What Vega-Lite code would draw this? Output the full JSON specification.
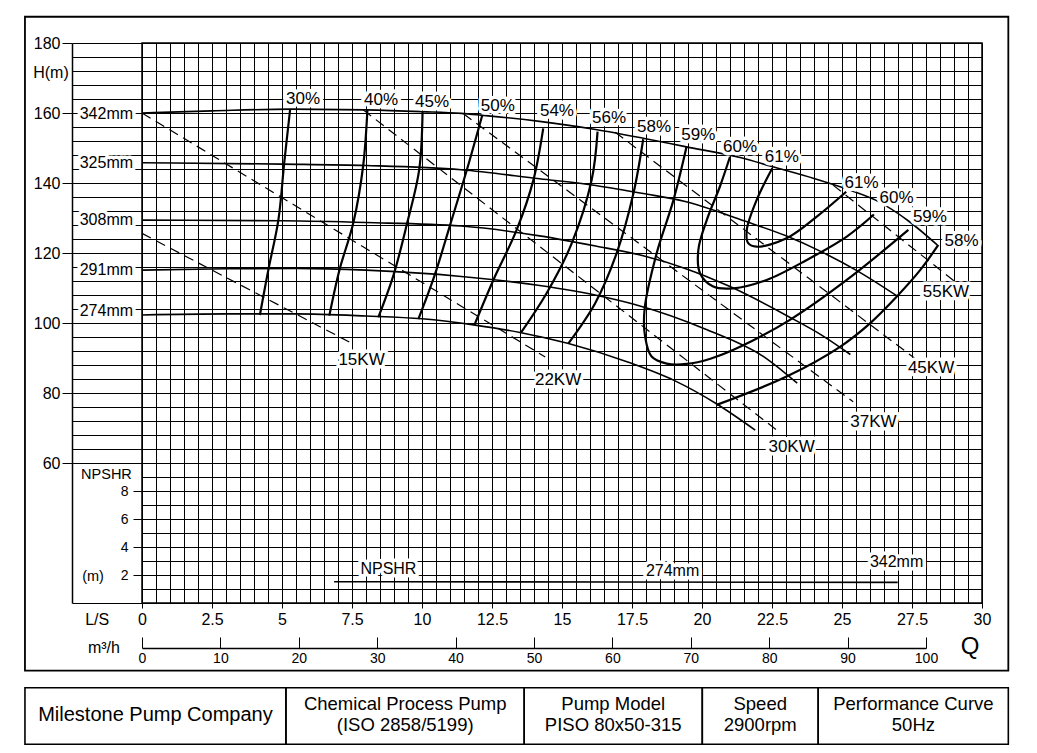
{
  "$schema": "https://vega.github.io/schema/vega-lite/v6.json",
  "width": 840,
  "height": 560,
  "autosize": {"type": "none"},
  "padding": {"left": 142, "top": 43, "right": 55, "bottom": 150},
  "background": "white",
  "config": {
    "view": {"stroke": "#000", "strokeWidth": 1.5},
    "font": "Liberation Sans",
    "axis": {
      "labelFont": "Liberation Sans",
      "labelColor": "#000",
      "tickColor": "#000",
      "domainColor": "#000",
      "gridColor": "#000",
      "gridOpacity": 1,
      "gridWidth": 1,
      "tickWidth": 1,
      "labelFontSize": 16
    }
  },
  "datasets": {
    "heads": [
      {"d": "342mm", "q": 0, "h": 160}, {"d": "342mm", "q": 2.5, "h": 160.6}, {"d": "342mm", "q": 5.3, "h": 161.1},
      {"d": "342mm", "q": 8, "h": 160.9}, {"d": "342mm", "q": 10, "h": 160.4}, {"d": "342mm", "q": 11.4, "h": 159.9},
      {"d": "342mm", "q": 12.1, "h": 159.4}, {"d": "342mm", "q": 14.2, "h": 157.6}, {"d": "342mm", "q": 16.2, "h": 155.3},
      {"d": "342mm", "q": 17.9, "h": 152.8}, {"d": "342mm", "q": 19.4, "h": 150.4}, {"d": "342mm", "q": 21.4, "h": 147.2},
      {"d": "342mm", "q": 22.5, "h": 144.7}, {"d": "342mm", "q": 24, "h": 141.3}, {"d": "342mm", "q": 25.2, "h": 138.2},
      {"d": "342mm", "q": 26.2, "h": 135.1}, {"d": "342mm", "q": 27.4, "h": 129}, {"d": "342mm", "q": 28.4, "h": 122.3},
      {"d": "325mm", "q": 0, "h": 145.8}, {"d": "325mm", "q": 5, "h": 145.4}, {"d": "325mm", "q": 8, "h": 145},
      {"d": "325mm", "q": 11.4, "h": 143.8}, {"d": "325mm", "q": 14.2, "h": 141.2}, {"d": "325mm", "q": 16.2, "h": 139.3},
      {"d": "325mm", "q": 17.9, "h": 137}, {"d": "325mm", "q": 19.4, "h": 134.7}, {"d": "325mm", "q": 21.5, "h": 129.2},
      {"d": "325mm", "q": 23, "h": 124.9}, {"d": "325mm", "q": 24.2, "h": 120.6}, {"d": "325mm", "q": 25.5, "h": 115.1},
      {"d": "325mm", "q": 26.95, "h": 107.8},
      {"d": "308mm", "q": 0, "h": 129.4}, {"d": "308mm", "q": 5, "h": 129.2}, {"d": "308mm", "q": 8, "h": 128.7},
      {"d": "308mm", "q": 11.4, "h": 127.7}, {"d": "308mm", "q": 14.2, "h": 124.9}, {"d": "308mm", "q": 16.2, "h": 122},
      {"d": "308mm", "q": 17.9, "h": 119.2}, {"d": "308mm", "q": 19.4, "h": 115.6}, {"d": "308mm", "q": 21, "h": 110.4},
      {"d": "308mm", "q": 23.1, "h": 101.8}, {"d": "308mm", "q": 24.3, "h": 96.4}, {"d": "308mm", "q": 25.3, "h": 91},
      {"d": "291mm", "q": 0, "h": 115.1}, {"d": "291mm", "q": 3, "h": 115.5}, {"d": "291mm", "q": 5.5, "h": 115.6},
      {"d": "291mm", "q": 8, "h": 115.1}, {"d": "291mm", "q": 11.4, "h": 113.3}, {"d": "291mm", "q": 14.2, "h": 110.7},
      {"d": "291mm", "q": 16.3, "h": 107.8}, {"d": "291mm", "q": 17.6, "h": 105.3}, {"d": "291mm", "q": 20.2, "h": 98},
      {"d": "291mm", "q": 22.2, "h": 90.4}, {"d": "291mm", "q": 23.4, "h": 82.8},
      {"d": "274mm", "q": 0, "h": 102.3}, {"d": "274mm", "q": 3, "h": 102.6}, {"d": "274mm", "q": 5.5, "h": 102.6},
      {"d": "274mm", "q": 8, "h": 102}, {"d": "274mm", "q": 10, "h": 101.2}, {"d": "274mm", "q": 11.9, "h": 99.4},
      {"d": "274mm", "q": 13.5, "h": 97.3}, {"d": "274mm", "q": 15.2, "h": 94.2}, {"d": "274mm", "q": 17.4, "h": 88.7},
      {"d": "274mm", "q": 19, "h": 83.6}, {"d": "274mm", "q": 20.5, "h": 77}, {"d": "274mm", "q": 21.9, "h": 69.4}
    ],
    "eff": [
      {"c": "30%", "q": 5.29, "h": 161}, {"c": "30%", "q": 5.08, "h": 145.8}, {"c": "30%", "q": 4.87, "h": 129.4},
      {"c": "30%", "q": 4.51, "h": 115.1}, {"c": "30%", "q": 4.21, "h": 102.3},
      {"c": "40%", "q": 8.05, "h": 160.9}, {"c": "40%", "q": 7.9, "h": 145}, {"c": "40%", "q": 7.55, "h": 128.7},
      {"c": "40%", "q": 7.05, "h": 115.1}, {"c": "40%", "q": 6.69, "h": 102.1},
      {"c": "45%", "q": 10.02, "h": 160.4}, {"c": "45%", "q": 9.9, "h": 143.8}, {"c": "45%", "q": 9.45, "h": 127.9},
      {"c": "45%", "q": 8.98, "h": 113.6}, {"c": "45%", "q": 8.44, "h": 101.6},
      {"c": "50%", "q": 12.15, "h": 159.3}, {"c": "50%", "q": 11.6, "h": 143.7}, {"c": "50%", "q": 11, "h": 127.9},
      {"c": "50%", "q": 10.45, "h": 113.6}, {"c": "50%", "q": 9.87, "h": 101.1},
      {"c": "54%", "q": 14.33, "h": 155.6}, {"c": "54%", "q": 13.98, "h": 140.9}, {"c": "54%", "q": 13.38, "h": 126.6},
      {"c": "54%", "q": 12.55, "h": 112.3}, {"c": "54%", "q": 11.87, "h": 99.4},
      {"c": "56%", "q": 16.27, "h": 154.7}, {"c": "56%", "q": 16.06, "h": 140.9}, {"c": "56%", "q": 15.35, "h": 122.8},
      {"c": "56%", "q": 14.45, "h": 108.5}, {"c": "56%", "q": 13.54, "h": 97.3},
      {"c": "58%L", "q": 17.9, "h": 152.5}, {"c": "58%L", "q": 17.55, "h": 137}, {"c": "58%L", "q": 16.95, "h": 119.9},
      {"c": "58%L", "q": 16.18, "h": 105.6}, {"c": "58%L", "q": 15.23, "h": 94.2},
      {"c": "59%", "q": 19.45, "h": 150.4}, {"c": "59%", "q": 18.98, "h": 135.1}, {"c": "59%", "q": 18.38, "h": 119.9},
      {"c": "59%", "q": 17.95, "h": 104}, {"c": "59%", "q": 17.97, "h": 96}, {"c": "59%", "q": 18.2, "h": 90.4},
      {"c": "59%", "q": 18.74, "h": 88.4}, {"c": "59%", "q": 19.45, "h": 88.3}, {"c": "59%", "q": 20.3, "h": 89.8},
      {"c": "59%", "q": 21.36, "h": 93.2}, {"c": "59%", "q": 23.14, "h": 100.9}, {"c": "59%", "q": 25.17, "h": 112.3},
      {"c": "59%", "q": 27.37, "h": 126.6},
      {"c": "60%", "q": 21, "h": 147.5}, {"c": "60%", "q": 20.64, "h": 139}, {"c": "60%", "q": 20.17, "h": 129.4},
      {"c": "60%", "q": 19.87, "h": 120.9}, {"c": "60%", "q": 19.93, "h": 114.2}, {"c": "60%", "q": 20.4, "h": 110.4},
      {"c": "60%", "q": 21.12, "h": 109.9}, {"c": "60%", "q": 22.31, "h": 112.3}, {"c": "60%", "q": 23.74, "h": 118},
      {"c": "60%", "q": 25.17, "h": 124.7}, {"c": "60%", "q": 26.14, "h": 131},
      {"c": "61%", "q": 22.51, "h": 144.2}, {"c": "61%", "q": 21.95, "h": 135.1}, {"c": "61%", "q": 21.6, "h": 126.6},
      {"c": "61%", "q": 21.65, "h": 122.8}, {"c": "61%", "q": 21.95, "h": 121.8}, {"c": "61%", "q": 23.02, "h": 124.2},
      {"c": "61%", "q": 24.1, "h": 130.4}, {"c": "61%", "q": 25.15, "h": 137.5},
      {"c": "58%R", "q": 20.52, "h": 76.6}, {"c": "58%R", "q": 23.02, "h": 84.7}, {"c": "58%R", "q": 24.93, "h": 93.2},
      {"c": "58%R", "q": 26, "h": 99.9}, {"c": "58%R", "q": 26.95, "h": 107.5}, {"c": "58%R", "q": 27.79, "h": 115.1},
      {"c": "58%R", "q": 28.44, "h": 122.3}
    ],
    "power": [
      {"p": "15KW", "q": 0, "h": 125.6}, {"p": "15KW", "q": 7.49, "h": 94.2},
      {"p": "22KW", "q": 0, "h": 160}, {"p": "22KW", "q": 14.4, "h": 90.3},
      {"p": "30KW", "q": 7.9, "h": 160.9}, {"p": "30KW", "q": 22.67, "h": 69.4},
      {"p": "37KW", "q": 11.48, "h": 159.8}, {"p": "37KW", "q": 25.4, "h": 77.5},
      {"p": "45KW", "q": 16.9, "h": 154.5}, {"p": "45KW", "q": 27.6, "h": 89.9},
      {"p": "55KW", "q": 24.68, "h": 139.4}, {"p": "55KW", "q": 29.04, "h": 111.8}
    ],
    "npshr": [
      {"q": 6.86, "n": 1.52}, {"q": 17, "n": 1.5}, {"q": 26.99, "n": 1.47}
    ],
    "sizeLabels": [
      {"t": "342mm", "q": -0.32, "h": 159.7},
      {"t": "325mm", "q": -0.32, "h": 145.7},
      {"t": "308mm", "q": -0.32, "h": 129.4},
      {"t": "291mm", "q": -0.32, "h": 115.1},
      {"t": "274mm", "q": -0.32, "h": 103.4}
    ],
    "curveLabels": [
      {"t": "30%", "q": 5.75, "h": 164}, {"t": "40%", "q": 8.54, "h": 163.7}, {"t": "45%", "q": 10.36, "h": 163.1},
      {"t": "50%", "q": 12.71, "h": 162}, {"t": "54%", "q": 14.82, "h": 160.6}, {"t": "56%", "q": 16.68, "h": 158.6},
      {"t": "58%", "q": 18.29, "h": 156.1}, {"t": "59%", "q": 19.87, "h": 153.7}, {"t": "60%", "q": 21.36, "h": 150.4},
      {"t": "61%", "q": 22.85, "h": 147.3}, {"t": "61%", "q": 25.7, "h": 140.1}, {"t": "60%", "q": 26.95, "h": 135.6},
      {"t": "59%", "q": 28.14, "h": 130.3}, {"t": "58%", "q": 29.27, "h": 123.4},
      {"t": "15KW", "q": 7.84, "h": 89.3}, {"t": "22KW", "q": 14.86, "h": 83.7}, {"t": "30KW", "q": 23.2, "h": 64.6},
      {"t": "37KW", "q": 26.12, "h": 71.7}, {"t": "45KW", "q": 28.18, "h": 87.1}, {"t": "55KW", "q": 28.71, "h": 108.9}
    ],
    "notes": [
      {"t": "H(m)", "q": -3.25, "h": 171.3},
      {"t": "L/S", "q": -1.6, "h": 15.1},
      {"t": "m³/h", "q": -1.36, "h": 7.1},
      {"t": "Q", "q": 29.57, "h": 7.3}
    ],
    "npshrLabels": [
      {"t": "NPSHR", "q": 8.8, "n": 2.43},
      {"t": "274mm", "q": 18.95, "n": 2.29},
      {"t": "342mm", "q": 26.95, "n": 2.93}
    ],
    "npshrNotes": [
      {"t": "NPSHR", "q": -1.27, "n": 9.15},
      {"t": "(m)", "q": -1.75, "n": 1.86}
    ],
    "titleBlock": [
      {"cell": "company", "txt": "Milestone Pump Company", "q0": -4.18, "q1": 5.14, "qm": 0.48},
      {"cell": "type", "txt": "Chemical Process Pump\n(ISO 2858/5199)", "q0": 5.14, "q1": 13.65, "qm": 9.4},
      {"cell": "model", "txt": "Pump Model\nPISO 80x50-315", "q0": 13.65, "q1": 20.01, "qm": 16.83},
      {"cell": "speed", "txt": "Speed\n2900rpm", "q0": 20.01, "q1": 24.15, "qm": 22.08},
      {"cell": "curve", "txt": "Performance Curve\n50Hz", "q0": 24.15, "q1": 30.94, "qm": 27.55}
    ]
  },
  "layer": [
    {
      "data": {"values": [{"q": 0}, {"q": 30}]},
      "mark": {"type": "point", "opacity": 0},
      "encoding": {
        "x": {
          "field": "q", "type": "quantitative", "title": null,
          "scale": {"domain": [0, 30], "range": [0, 840], "nice": false, "zero": false},
          "axis": {
            "orient": "bottom",
            "values": [0, 0.5, 1, 1.5, 2, 2.5, 3, 3.5, 4, 4.5, 5, 5.5, 6, 6.5, 7, 7.5, 8, 8.5, 9, 9.5, 10, 10.5, 11, 11.5, 12, 12.5, 13, 13.5, 14, 14.5, 15, 15.5, 16, 16.5, 17, 17.5, 18, 18.5, 19, 19.5, 20, 20.5, 21, 21.5, 22, 22.5, 23, 23.5, 24, 24.5, 25, 25.5, 26, 26.5, 27, 27.5, 28, 28.5, 29, 29.5, 30],
            "grid": true,
            "domain": false,
            "tickSize": 5,
            "tickOpacity": {"condition": {"test": "datum.value % 2.5 === 0", "value": 1}, "value": 0},
            "labelExpr": "datum.value % 2.5 === 0 ? '' + datum.value : ''",
            "labelFontSize": 16,
            "labelPadding": 3,
            "labelFlush": false,
            "labelOverlap": false
          }
        }
      }
    },
    {
      "layer": [
        {
          "layer": [
            {
              "data": {"name": "heads"},
              "mark": {"type": "line", "interpolate": "monotone", "color": "#000", "strokeWidth": 1.6},
              "encoding": {
                "x": {"field": "q", "type": "quantitative", "title": null, "axis": null, "scale": {"domain": [0, 30], "nice": false, "zero": false}},
                "y": {
                  "field": "h", "type": "quantitative", "title": null,
                  "scale": {"domain": [20, 180], "nice": false, "zero": false},
                  "axis": {
                    "orient": "left",
                    "offset": 70,
                    "values": [60, 80, 100, 120, 140, 160, 180],
                    "grid": false,
                    "domain": true,
                    "domainWidth": 1.5,
                    "tickSize": 10,
                    "labelFontSize": 16,
                    "labelPadding": 2
                  }
                },
                "detail": {"field": "d"}
              }
            },
            {
              "data": {"name": "power"},
              "mark": {"type": "line", "color": "#000", "strokeWidth": 1.2, "strokeDash": [10, 6]},
              "encoding": {
                "x": {"field": "q", "type": "quantitative", "title": null, "axis": null, "scale": {"domain": [0, 30], "nice": false, "zero": false}},
                "y": {"field": "h", "type": "quantitative", "title": null, "scale": {"domain": [20, 180], "nice": false, "zero": false}},
                "detail": {"field": "p"}
              }
            },
            {
              "data": {"name": "eff"},
              "mark": {"type": "line", "interpolate": "catmull-rom", "color": "#000", "strokeWidth": 2.2},
              "encoding": {
                "x": {"field": "q", "type": "quantitative", "title": null, "axis": null, "scale": {"domain": [0, 30], "nice": false, "zero": false}},
                "y": {"field": "h", "type": "quantitative", "title": null, "scale": {"domain": [20, 180], "nice": false, "zero": false}},
                "detail": {"field": "c"},
                "order": {"value": null}
              }
            },
            {
              "data": {"name": "sizeLabels"},
              "mark": {"type": "text", "align": "right", "fontSize": 16, "fill": "white", "stroke": "white", "strokeWidth": 7, "strokeJoin": "round"},
              "encoding": {
                "x": {"field": "q", "type": "quantitative", "title": null, "axis": null, "scale": {"domain": [0, 30], "nice": false, "zero": false}},
                "y": {"field": "h", "type": "quantitative", "title": null, "scale": {"domain": [20, 180], "nice": false, "zero": false}},
                "text": {"field": "t"}
              }
            },
            {
              "data": {"name": "sizeLabels"},
              "mark": {"type": "text", "align": "right", "fontSize": 16, "color": "#000"},
              "encoding": {
                "x": {"field": "q", "type": "quantitative", "title": null, "axis": null, "scale": {"domain": [0, 30], "nice": false, "zero": false}},
                "y": {"field": "h", "type": "quantitative", "title": null, "scale": {"domain": [20, 180], "nice": false, "zero": false}},
                "text": {"field": "t"}
              }
            },
            {
              "data": {"name": "curveLabels"},
              "mark": {"type": "text", "fontSize": 17, "fill": "white", "stroke": "white", "strokeWidth": 7, "strokeJoin": "round"},
              "encoding": {
                "x": {"field": "q", "type": "quantitative", "title": null, "axis": null, "scale": {"domain": [0, 30], "nice": false, "zero": false}},
                "y": {"field": "h", "type": "quantitative", "title": null, "scale": {"domain": [20, 180], "nice": false, "zero": false}},
                "text": {"field": "t"}
              }
            },
            {
              "data": {"name": "curveLabels"},
              "mark": {"type": "text", "fontSize": 17, "color": "#000"},
              "encoding": {
                "x": {"field": "q", "type": "quantitative", "title": null, "axis": null, "scale": {"domain": [0, 30], "nice": false, "zero": false}},
                "y": {"field": "h", "type": "quantitative", "title": null, "scale": {"domain": [20, 180], "nice": false, "zero": false}},
                "text": {"field": "t"}
              }
            },
            {
              "data": {"name": "notes"},
              "mark": {"type": "text", "color": "#000"},
              "encoding": {
                "x": {"field": "q", "type": "quantitative", "title": null, "axis": null, "scale": {"domain": [0, 30], "nice": false, "zero": false}},
                "y": {"field": "h", "type": "quantitative", "title": null, "scale": {"domain": [20, 180], "nice": false, "zero": false}},
                "text": {"field": "t"},
                "size": {"condition": {"test": "datum.t === 'Q'", "value": 24}, "value": 16}
              }
            },
            {
              "data": {"values": [{}]},
              "mark": {"type": "rect", "fillOpacity": 0, "stroke": "#000", "strokeWidth": 1.8},
              "encoding": {
                "x": {"datum": -4.18, "type": "quantitative", "axis": null, "scale": {"domain": [0, 30], "nice": false, "zero": false}},
                "x2": {"datum": 30.94},
                "y": {"datum": 187.5, "type": "quantitative", "scale": {"domain": [20, 180], "nice": false, "zero": false}},
                "y2": {"datum": 0.66}
              }
            },
            {
              "data": {"name": "titleBlock"},
              "mark": {"type": "rect", "fillOpacity": 0, "stroke": "#000", "strokeWidth": 1.6},
              "encoding": {
                "x": {"field": "q0", "type": "quantitative", "title": null, "axis": null, "scale": {"domain": [0, 30], "nice": false, "zero": false}},
                "x2": {"field": "q1"},
                "y": {"datum": -4.2, "type": "quantitative", "scale": {"domain": [20, 180], "nice": false, "zero": false}},
                "y2": {"datum": -20.37}
              }
            },
            {
              "data": {"name": "titleBlock"},
              "transform": [{"filter": "datum.cell !== 'company'"}],
              "mark": {"type": "text", "color": "#000", "fontSize": 18.5, "lineBreak": "\n", "lineHeight": 21},
              "encoding": {
                "x": {"field": "qm", "type": "quantitative", "title": null, "axis": null, "scale": {"domain": [0, 30], "nice": false, "zero": false}},
                "y": {"datum": -8.86, "type": "quantitative", "scale": {"domain": [20, 180], "nice": false, "zero": false}},
                "text": {"field": "txt"}
              }
            },
            {
              "data": {"name": "titleBlock"},
              "transform": [{"filter": "datum.cell === 'company'"}],
              "mark": {"type": "text", "color": "#000", "fontSize": 20},
              "encoding": {
                "x": {"field": "qm", "type": "quantitative", "title": null, "axis": null, "scale": {"domain": [0, 30], "nice": false, "zero": false}},
                "y": {"datum": -11.9, "type": "quantitative", "scale": {"domain": [20, 180], "nice": false, "zero": false}},
                "text": {"field": "txt"}
              }
            }
          ]
        },
        {
          "data": {"name": "heads"},
          "mark": {"type": "point", "opacity": 0},
          "encoding": {
            "x": {"field": "q", "type": "quantitative", "title": null, "axis": null, "scale": {"domain": [0, 30], "nice": false, "zero": false}},
            "y": {
              "field": "h", "type": "quantitative", "title": null,
              "scale": {"domain": [20, 180], "nice": false, "zero": false},
              "axis": {
                "orient": "left",
                "offset": 0,
                "values": [20, 60, 64, 68, 72, 76, 80, 84, 88, 92, 96, 100, 104, 108, 112, 116, 120, 124, 128, 132, 136, 140, 144, 148, 152, 156, 160, 164, 168, 172, 176, 180],
                "grid": true,
                "labels": false,
                "domain": false,
                "tickSize": 70
              }
            }
          }
        },
        {
          "layer": [
            {
              "data": {"name": "npshr"},
              "mark": {"type": "line", "interpolate": "monotone", "color": "#000", "strokeWidth": 1.6},
              "encoding": {
                "x": {"field": "q", "type": "quantitative", "title": null, "axis": null, "scale": {"domain": [0, 30], "nice": false, "zero": false}},
                "y": {
                  "field": "n", "type": "quantitative", "title": null,
                  "scale": {"domain": [0, 40], "nice": false, "zero": false},
                  "axis": {
                    "orient": "left",
                    "values": [1, 2, 3, 4, 5, 6, 7, 8, 9],
                    "grid": true,
                    "domain": false,
                    "tickSize": 9,
                    "tickOpacity": {"condition": {"test": "datum.value % 2 === 0", "value": 1}, "value": 0},
                    "labelExpr": "datum.value % 2 === 0 ? '' + datum.value : ''",
                    "labelFontSize": 14,
                    "labelPadding": 5
                  }
                }
              }
            },
            {
              "data": {"name": "npshrLabels"},
              "mark": {"type": "text", "fontSize": 16, "fill": "white", "stroke": "white", "strokeWidth": 7, "strokeJoin": "round"},
              "encoding": {
                "x": {"field": "q", "type": "quantitative", "title": null, "axis": null, "scale": {"domain": [0, 30], "nice": false, "zero": false}},
                "y": {"field": "n", "type": "quantitative", "title": null, "scale": {"domain": [0, 40], "nice": false, "zero": false}},
                "text": {"field": "t"}
              }
            },
            {
              "data": {"name": "npshrLabels"},
              "mark": {"type": "text", "fontSize": 16, "color": "#000"},
              "encoding": {
                "x": {"field": "q", "type": "quantitative", "title": null, "axis": null, "scale": {"domain": [0, 30], "nice": false, "zero": false}},
                "y": {"field": "n", "type": "quantitative", "title": null, "scale": {"domain": [0, 40], "nice": false, "zero": false}},
                "text": {"field": "t"}
              }
            },
            {
              "data": {"name": "npshrNotes"},
              "mark": {"type": "text", "fontSize": 14.5, "color": "#000"},
              "encoding": {
                "x": {"field": "q", "type": "quantitative", "title": null, "axis": null, "scale": {"domain": [0, 30], "nice": false, "zero": false}},
                "y": {"field": "n", "type": "quantitative", "title": null, "scale": {"domain": [0, 40], "nice": false, "zero": false}},
                "text": {"field": "t"}
              }
            }
          ]
        }
      ],
      "resolve": {"scale": {"y": "independent"}}
    },
    {
      "data": {"values": [{"m": 0}, {"m": 100}]},
      "mark": {"type": "point", "opacity": 0},
      "encoding": {
        "x": {
          "field": "m", "type": "quantitative", "title": null,
          "scale": {"domain": [0, 100], "range": [0, 784], "nice": false, "zero": false},
          "axis": {
            "orient": "bottom",
            "offset": 45,
            "values": [0, 10, 20, 30, 40, 50, 60, 70, 80, 90, 100],
            "grid": false,
            "domain": true,
            "domainWidth": 1.3,
            "tickSize": -11,
            "labelFontSize": 14,
            "labelPadding": 14,
            "labelFlush": false
          }
        }
      }
    }
  ],
  "resolve": {"scale": {"x": "independent", "y": "independent"}}
}
